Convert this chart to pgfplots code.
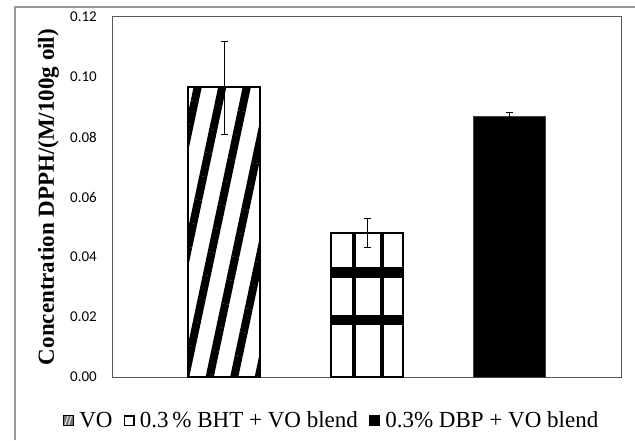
\documentclass[border=0pt]{standalone}
\usepackage{pgfplots}
\pgfplotsset{compat=1.18}
\usepackage{fontspec}
\setmainfont{Liberation Serif}
\newfontfamily\tickfont{Carlito}
\usetikzlibrary{patterns,patterns.meta}

% grid pattern for the BHT bar; tile chosen so that no tile seam falls inside the bar
\pgfdeclarepatternformonly{bhtgrid}{\pgfpointorigin}{\pgfpoint{110pt}{210pt}}{\pgfpoint{110pt}{210pt}}{%
  \pgfpathrectangle{\pgfpoint{21.5pt}{0pt}}{\pgfpoint{4pt}{210pt}}\pgfusepath{fill}%
  \pgfpathrectangle{\pgfpoint{49.5pt}{0pt}}{\pgfpoint{4pt}{210pt}}\pgfusepath{fill}%
  \pgfpathrectangle{\pgfpoint{0pt}{162pt}}{\pgfpoint{110pt}{11pt}}\pgfusepath{fill}%
  \pgfpathrectangle{\pgfpoint{0pt}{115pt}}{\pgfpoint{110pt}{10pt}}\pgfusepath{fill}}

\begin{document}
\begin{tikzpicture}
\useasboundingbox (0,0) rectangle (635pt,440pt);
\fill[white] (0,0) rectangle (635pt,440pt);
\draw[black!40, line width=1.2pt] (15pt,0pt) -- (15pt,433pt) -- (636pt,433pt);
\begin{axis}[
  at={(113pt,63pt)}, anchor=south west,
  scale only axis, width=508pt, height=360pt,
  xmin=-0.782, xmax=2.782, ymin=0, ymax=0.12,
  xtick=\empty,
  ytick={0,0.02,0.04,0.06,0.08,0.10,0.12},
  major tick length=0pt,
  axis line style={black!65, line width=1pt},
  yticklabel style={font=\tickfont\fontsize{15}{17}\selectfont, inner sep=0pt, xshift=-16pt,
    /pgf/number format/.cd, fixed, fixed zerofill, precision=2, assume math mode=true},
  ylabel={Concentration DPPH/(M/100g oil)},
  ylabel style={font=\bfseries\fontsize{23}{25}\selectfont, at={(axis description cs:-0.127,0.5)}, anchor=center},
  legend style={at={(axis description cs:0.430,-0.121)}, anchor=center, draw=none, fill=none,
    font=\fontsize{23}{25}\selectfont, legend columns=3,
    /tikz/every odd column/.append style={column sep=4pt},
    /tikz/every even column/.append style={column sep=9pt},
    nodes={inner sep=2pt}},
  legend cell align=left,
]
\addlegendimage{legend image code/.code={
    \fill[black!55] (0pt,-5pt) rectangle (10pt,5pt);
    \draw[black!15, line width=1.2pt] (2pt,-4.5pt)--(5pt,4.5pt) (5.5pt,-4.5pt)--(8.5pt,4.5pt);
    \draw[black, line width=0.7pt] (0pt,-5pt) rectangle (10pt,5pt);}}
\addlegendentry{VO}
\addlegendimage{legend image code/.code={
    \fill[black] (0pt,-5pt) rectangle (10pt,5pt);
    \fill[white] (1.5pt,-3.5pt) rectangle (3.2pt,-1.8pt);
    \fill[white] (4.4pt,-3.5pt) rectangle (5.6pt,-1.8pt);
    \fill[white] (6.8pt,-3.5pt) rectangle (8.5pt,-1.8pt);
    \fill[white] (1.5pt,-0.6pt) rectangle (3.2pt,0.6pt);
    \fill[white] (4.4pt,-0.6pt) rectangle (5.6pt,0.6pt);
    \fill[white] (6.8pt,-0.6pt) rectangle (8.5pt,0.6pt);
    \fill[white] (1.5pt,1.8pt) rectangle (3.2pt,3.5pt);
    \fill[white] (4.4pt,1.8pt) rectangle (5.6pt,3.5pt);
    \fill[white] (6.8pt,1.8pt) rectangle (8.5pt,3.5pt);}}
\addlegendentry{0.3\,\% BHT + VO blend}
\addlegendimage{legend image code/.code={\fill[black] (0pt,-5pt) rectangle (10pt,5pt);}}
\addlegendentry{0.3\% DBP + VO blend}

\addplot[forget plot, ybar, bar width=72pt, bar shift=0pt, draw=black, line width=2pt,
  preaction={fill=white}, pattern={Lines[angle=78,distance=24pt,line width=8pt]}, pattern color=black,
  error bars/.cd, y dir=both, y explicit,
  error bar style={black, line width=0.8pt, solid},
  error mark options={black, line width=0.8pt, mark size=3.5pt, rotate=90}]
  coordinates {(0,0.0965) +- (0,0.0155)};
\addplot[forget plot, ybar, bar width=72pt, bar shift=0pt, draw=black, line width=2pt,
  preaction={fill=white}, pattern=bhtgrid, pattern color=black,
  error bars/.cd, y dir=both, y explicit,
  error bar style={black, line width=0.8pt, solid},
  error mark options={black, line width=0.8pt, mark size=3.5pt, rotate=90}]
  coordinates {(1,0.0480) +- (0,0.0048)};
\addplot[forget plot, ybar, bar width=72pt, bar shift=0pt, draw=black!75, line width=0.8pt, fill=black,
  error bars/.cd, y dir=both, y explicit,
  error bar style={black, line width=0.8pt, solid},
  error mark options={black, line width=0.8pt, mark size=3.5pt, rotate=90}]
  coordinates {(2,0.0867) +- (0,0.0016)};
\end{axis}
\end{tikzpicture}
\end{document}
